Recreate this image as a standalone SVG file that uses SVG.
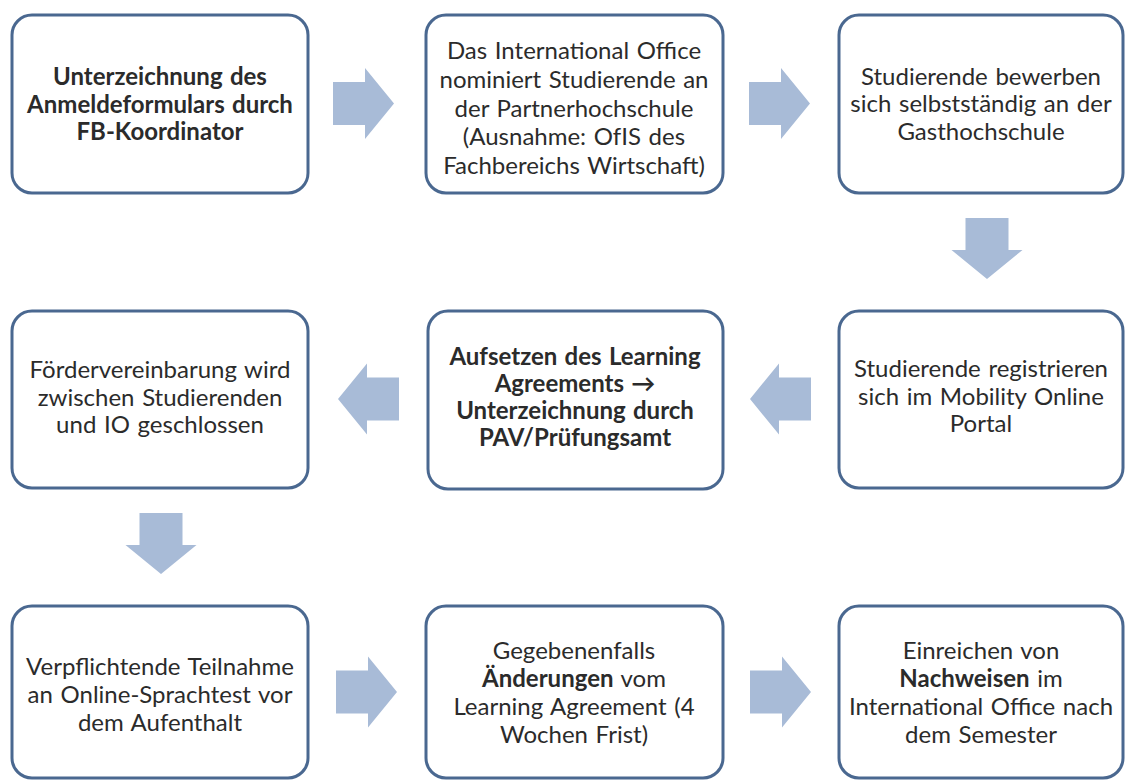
<svg xmlns="http://www.w3.org/2000/svg" width="1129" height="781" viewBox="0 0 1129 781">
  <style>
    .box { fill: #ffffff; stroke: #4a6890; stroke-width: 3; }
    .lbl { font-family: Lato, "Open Sans", "Liberation Sans", sans-serif; font-size: 24px; word-spacing: 1.5px; fill: #2b2b2b; text-anchor: middle; }
    .b { font-weight: bold; }
    .arrow { fill: #a8bbd7; }
  </style>
  <defs>
    <!-- block arrow pointing right, origin at tail centre -->
    <path id="arr" d="M0,-21.5 H32 V-35.5 L61,0 L32,35.5 V21.5 H0 Z"/>
  </defs>
  <rect width="1129" height="781" fill="#ffffff"/>

  <g id="connectors">
    <use href="#arr" class="arrow" transform="translate(333,103.5)"/>
    <use href="#arr" class="arrow" transform="translate(749,103.5)"/>
    <use href="#arr" class="arrow" transform="translate(987,218) rotate(90)"/>
    <use href="#arr" class="arrow" transform="translate(811,399) rotate(180)"/>
    <use href="#arr" class="arrow" transform="translate(399,399) rotate(180)"/>
    <use href="#arr" class="arrow" transform="translate(161,513) rotate(90)"/>
    <use href="#arr" class="arrow" transform="translate(336,692)"/>
    <use href="#arr" class="arrow" transform="translate(750,692)"/>
  </g>

  <g id="n1">
    <rect class="box" x="12" y="15" width="296" height="178" rx="20"/>
    <text class="lbl b" x="160" y="85">Unterzeichnung des</text>
    <text class="lbl b" x="160" y="113">Anmeldeformulars durch</text>
    <text class="lbl b" x="160" y="140">FB-Koordinator</text>
  </g>

  <g id="n2">
    <rect class="box" x="426" y="15" width="297" height="178" rx="20"/>
    <text class="lbl" x="574" y="59">Das International Office</text>
    <text class="lbl" x="574" y="88">nominiert Studierende an</text>
    <text class="lbl" x="574" y="117">der Partnerhochschule</text>
    <text class="lbl" x="574" y="145">(Ausnahme: OfIS des</text>
    <text class="lbl" x="574" y="174">Fachbereichs Wirtschaft)</text>
  </g>

  <g id="n3">
    <rect class="box" x="839" y="15" width="284" height="178" rx="20"/>
    <text class="lbl" x="981" y="85">Studierende bewerben</text>
    <text class="lbl" x="981" y="112">sich selbstständig an der</text>
    <text class="lbl" x="981" y="140">Gasthochschule</text>
  </g>

  <g id="n4">
    <rect class="box" x="839" y="311" width="284" height="177" rx="20"/>
    <text class="lbl" x="981" y="377">Studierende registrieren</text>
    <text class="lbl" x="981" y="405">sich im Mobility Online</text>
    <text class="lbl" x="981" y="432">Portal</text>
  </g>

  <g id="n5">
    <rect class="box" x="428" y="311" width="295" height="178" rx="20"/>
    <text class="lbl b" x="575" y="365">Aufsetzen des Learning</text>
    <text class="lbl b" x="575" y="392">Agreements →</text>
    <text class="lbl b" x="575" y="419">Unterzeichnung durch</text>
    <text class="lbl b" x="575" y="446">PAV/Prüfungsamt</text>
  </g>

  <g id="n6">
    <rect class="box" x="12" y="311" width="296" height="177" rx="20"/>
    <text class="lbl" x="160" y="378">Fördervereinbarung wird</text>
    <text class="lbl" x="160" y="406">zwischen Studierenden</text>
    <text class="lbl" x="160" y="433">und IO geschlossen</text>
  </g>

  <g id="n7">
    <rect class="box" x="12" y="606" width="296" height="172" rx="20"/>
    <text class="lbl" x="160" y="675">Verpflichtende Teilnahme</text>
    <text class="lbl" x="160" y="703">an Online-Sprachtest vor</text>
    <text class="lbl" x="160" y="731">dem Aufenthalt</text>
  </g>

  <g id="n8">
    <rect class="box" x="426" y="606" width="297" height="172" rx="20"/>
    <text class="lbl" x="574" y="659">Gegebenenfalls</text>
    <text class="lbl" x="574" y="687"><tspan class="b">Änderungen</tspan> vom</text>
    <text class="lbl" x="574" y="715">Learning Agreement (4</text>
    <text class="lbl" x="574" y="743">Wochen Frist)</text>
  </g>

  <g id="n9">
    <rect class="box" x="839" y="606" width="284" height="172" rx="20"/>
    <text class="lbl" x="981" y="659">Einreichen von</text>
    <text class="lbl" x="981" y="687"><tspan class="b">Nachweisen</tspan> im</text>
    <text class="lbl" x="981" y="715">International Office nach</text>
    <text class="lbl" x="981" y="743">dem Semester</text>
  </g>
</svg>
